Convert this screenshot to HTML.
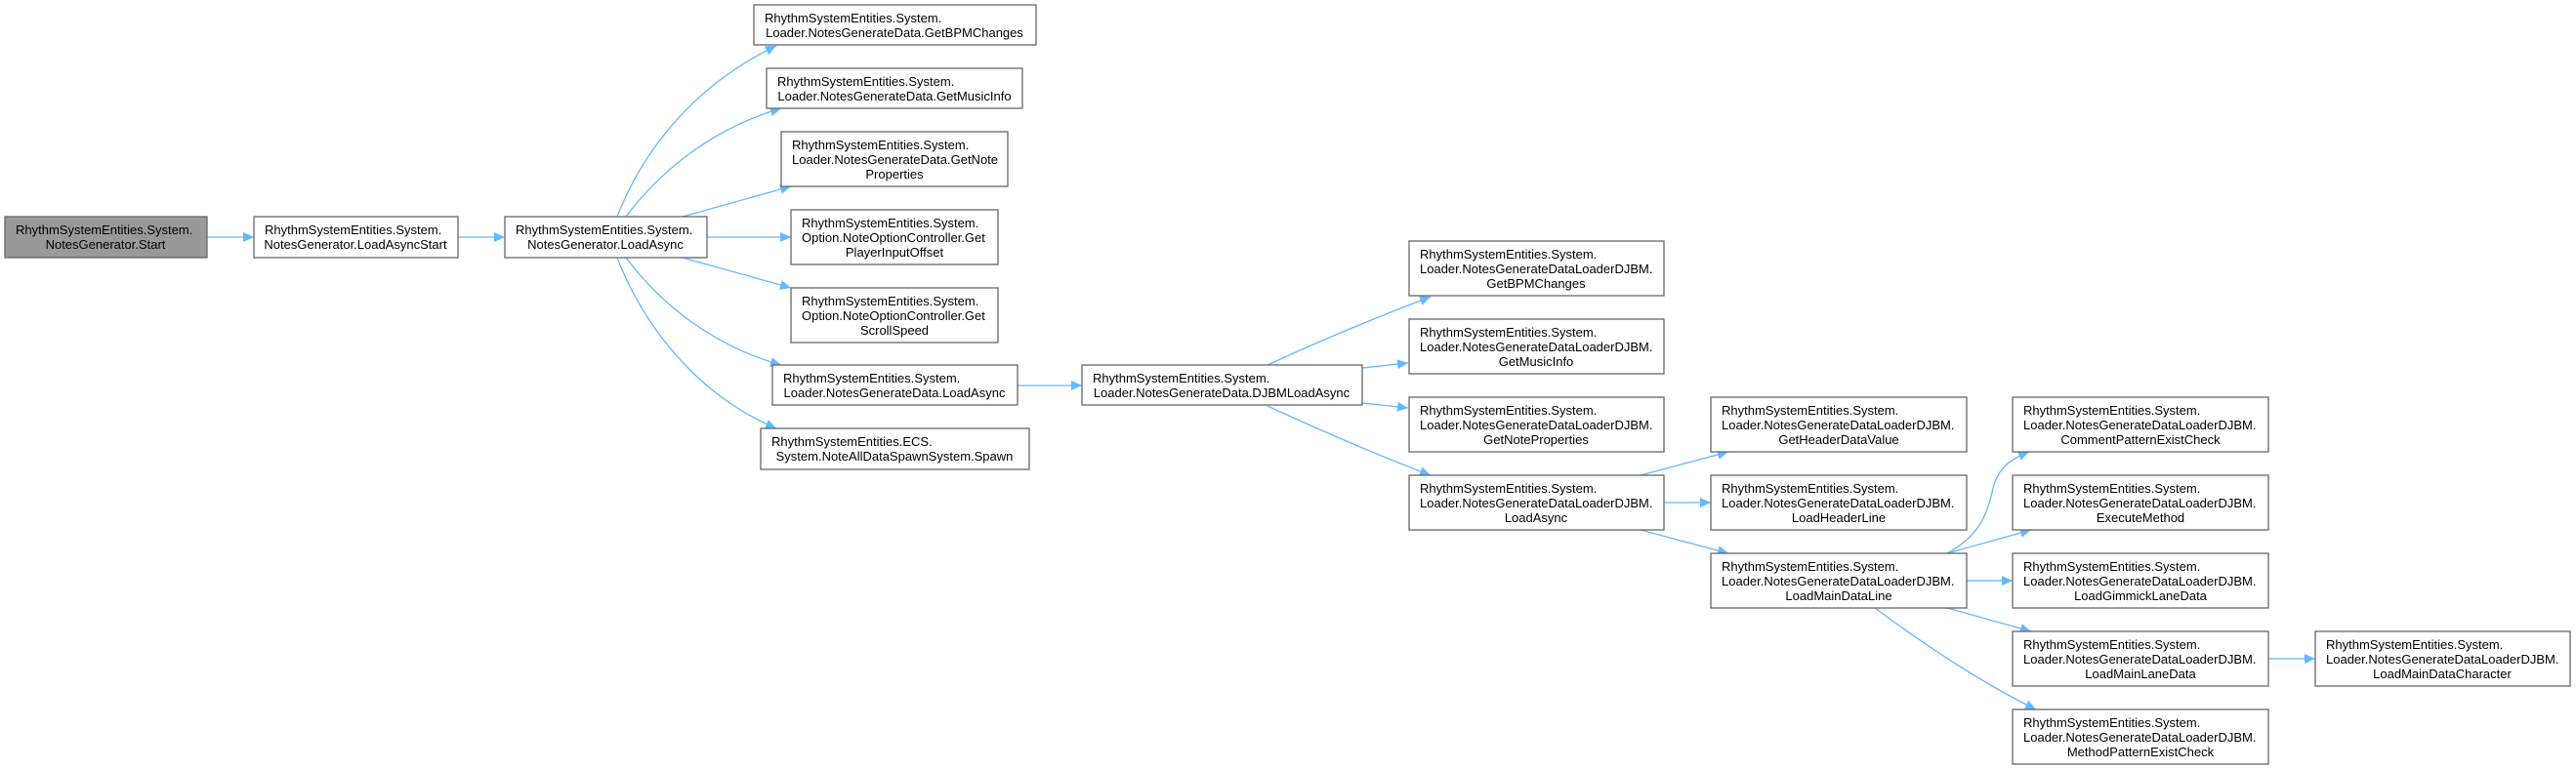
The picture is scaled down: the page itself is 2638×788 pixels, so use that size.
<!DOCTYPE html>
<html><head><meta charset="utf-8"><style>
html,body{margin:0;padding:0;background:#fff;}
svg{display:block;}
text{font-family:"Liberation Sans",sans-serif;font-size:13px;fill:#000;}
</style></head><body>
<svg width="2638" height="788" viewBox="0 0 2638 788" xmlns="http://www.w3.org/2000/svg">
<defs>
<marker id="a" markerWidth="12" markerHeight="10" refX="11" refY="5" orient="auto" markerUnits="userSpaceOnUse">
<path d="M0,0 L11,5 L0,10 Z" fill="#63b8ff"/>
</marker>
</defs>
<g fill="none" stroke="#63b8ff" stroke-width="1.3" marker-end="url(#a)">
<path d="M212,243 L260,243"/>
<path d="M469,243 L517,243"/>
<path d="M632,222 C660,150 715,85 795,47"/>
<path d="M641,222 C680,170 735,130 800,111"/>
<path d="M699,222 L810,191"/>
<path d="M724,243 L810,243"/>
<path d="M699,264 L810,295"/>
<path d="M641,264 C680,316 735,356 800,374"/>
<path d="M632,264 C660,336 715,405 795,439"/>
<path d="M1042,395 L1108,395"/>
<path d="M1298,374 C1350,350 1410,325 1465,304"/>
<path d="M1395,377 L1442,372"/>
<path d="M1395,413 L1442,418"/>
<path d="M1298,416 C1350,440 1410,466 1465,487"/>
<path d="M1680,487 L1770,463"/>
<path d="M1704,515 L1752,515"/>
<path d="M1680,543 L1770,567"/>
<path d="M1994,567 C2025,550 2035,530 2041,500 C2047,478 2060,470 2078,463"/>
<path d="M1994,567 L2080,543"/>
<path d="M2014,595 L2061,595"/>
<path d="M1994,623 L2080,647"/>
<path d="M1920,623 C1970,660 2030,700 2085,727"/>
<path d="M2323,675 L2371,675"/>
</g>
<g stroke="#666" stroke-width="1.3">
<rect x="5" y="222" width="207" height="42" fill="#999"/>
<rect x="260" y="222" width="209" height="42" fill="#fff"/>
<rect x="517" y="222" width="207" height="42" fill="#fff"/>
<rect x="772" y="5" width="289" height="41" fill="#fff"/>
<rect x="785" y="70" width="262" height="41" fill="#fff"/>
<rect x="800" y="135" width="232" height="56" fill="#fff"/>
<rect x="810" y="215" width="212" height="56" fill="#fff"/>
<rect x="810" y="295" width="212" height="56" fill="#fff"/>
<rect x="791" y="374" width="251" height="41" fill="#fff"/>
<rect x="779" y="439" width="275" height="42" fill="#fff"/>
<rect x="1108" y="374" width="287" height="41" fill="#fff"/>
<rect x="1443" y="247" width="261" height="56" fill="#fff"/>
<rect x="1443" y="327" width="261" height="56" fill="#fff"/>
<rect x="1443" y="407" width="261" height="56" fill="#fff"/>
<rect x="1443" y="487" width="261" height="56" fill="#fff"/>
<rect x="1752" y="407" width="262" height="56" fill="#fff"/>
<rect x="1752" y="487" width="262" height="56" fill="#fff"/>
<rect x="1752" y="567" width="262" height="56" fill="#fff"/>
<rect x="2061" y="407" width="262" height="56" fill="#fff"/>
<rect x="2061" y="487" width="262" height="56" fill="#fff"/>
<rect x="2061" y="567" width="262" height="56" fill="#fff"/>
<rect x="2061" y="647" width="262" height="56" fill="#fff"/>
<rect x="2061" y="727" width="262" height="56" fill="#fff"/>
<rect x="2371" y="647" width="261" height="56" fill="#fff"/>
</g>
<g>
<text x="16" y="240">RhythmSystemEntities.System.</text><text x="108" y="255" text-anchor="middle">NotesGenerator.Start</text>
<text x="271" y="240">RhythmSystemEntities.System.</text><text x="364" y="255" text-anchor="middle">NotesGenerator.LoadAsyncStart</text>
<text x="528" y="240">RhythmSystemEntities.System.</text><text x="620" y="255" text-anchor="middle">NotesGenerator.LoadAsync</text>
<text x="783" y="23">RhythmSystemEntities.System.</text><text x="916" y="38" text-anchor="middle">Loader.NotesGenerateData.GetBPMChanges</text>
<text x="796" y="88">RhythmSystemEntities.System.</text><text x="916" y="103" text-anchor="middle">Loader.NotesGenerateData.GetMusicInfo</text>
<text x="811" y="153">RhythmSystemEntities.System.</text><text x="811" y="168">Loader.NotesGenerateData.GetNote</text><text x="916" y="183" text-anchor="middle">Properties</text>
<text x="821" y="233">RhythmSystemEntities.System.</text><text x="821" y="248">Option.NoteOptionController.Get</text><text x="916" y="263" text-anchor="middle">PlayerInputOffset</text>
<text x="821" y="313">RhythmSystemEntities.System.</text><text x="821" y="328">Option.NoteOptionController.Get</text><text x="916" y="343" text-anchor="middle">ScrollSpeed</text>
<text x="802" y="392">RhythmSystemEntities.System.</text><text x="916" y="407" text-anchor="middle">Loader.NotesGenerateData.LoadAsync</text>
<text x="790" y="457">RhythmSystemEntities.ECS.</text><text x="916" y="472" text-anchor="middle">System.NoteAllDataSpawnSystem.Spawn</text>
<text x="1119" y="392">RhythmSystemEntities.System.</text><text x="1251" y="407" text-anchor="middle">Loader.NotesGenerateData.DJBMLoadAsync</text>

<text x="1454" y="265">RhythmSystemEntities.System.</text><text x="1454" y="280">Loader.NotesGenerateDataLoaderDJBM.</text><text x="1573" y="295" text-anchor="middle">GetBPMChanges</text>
<text x="1454" y="345">RhythmSystemEntities.System.</text><text x="1454" y="360">Loader.NotesGenerateDataLoaderDJBM.</text><text x="1573" y="375" text-anchor="middle">GetMusicInfo</text>
<text x="1454" y="425">RhythmSystemEntities.System.</text><text x="1454" y="440">Loader.NotesGenerateDataLoaderDJBM.</text><text x="1573" y="455" text-anchor="middle">GetNoteProperties</text>
<text x="1454" y="505">RhythmSystemEntities.System.</text><text x="1454" y="520">Loader.NotesGenerateDataLoaderDJBM.</text><text x="1573" y="535" text-anchor="middle">LoadAsync</text>

<text x="1763" y="425">RhythmSystemEntities.System.</text><text x="1763" y="440">Loader.NotesGenerateDataLoaderDJBM.</text><text x="1883" y="455" text-anchor="middle">GetHeaderDataValue</text>
<text x="1763" y="505">RhythmSystemEntities.System.</text><text x="1763" y="520">Loader.NotesGenerateDataLoaderDJBM.</text><text x="1883" y="535" text-anchor="middle">LoadHeaderLine</text>
<text x="1763" y="585">RhythmSystemEntities.System.</text><text x="1763" y="600">Loader.NotesGenerateDataLoaderDJBM.</text><text x="1883" y="615" text-anchor="middle">LoadMainDataLine</text>

<text x="2072" y="425">RhythmSystemEntities.System.</text><text x="2072" y="440">Loader.NotesGenerateDataLoaderDJBM.</text><text x="2192" y="455" text-anchor="middle">CommentPatternExistCheck</text>
<text x="2072" y="505">RhythmSystemEntities.System.</text><text x="2072" y="520">Loader.NotesGenerateDataLoaderDJBM.</text><text x="2192" y="535" text-anchor="middle">ExecuteMethod</text>
<text x="2072" y="585">RhythmSystemEntities.System.</text><text x="2072" y="600">Loader.NotesGenerateDataLoaderDJBM.</text><text x="2192" y="615" text-anchor="middle">LoadGimmickLaneData</text>
<text x="2072" y="665">RhythmSystemEntities.System.</text><text x="2072" y="680">Loader.NotesGenerateDataLoaderDJBM.</text><text x="2192" y="695" text-anchor="middle">LoadMainLaneData</text>
<text x="2072" y="745">RhythmSystemEntities.System.</text><text x="2072" y="760">Loader.NotesGenerateDataLoaderDJBM.</text><text x="2192" y="775" text-anchor="middle">MethodPatternExistCheck</text>

<text x="2382" y="665">RhythmSystemEntities.System.</text><text x="2382" y="680">Loader.NotesGenerateDataLoaderDJBM.</text><text x="2501" y="695" text-anchor="middle">LoadMainDataCharacter</text>
</g>
</svg>
</body></html>
